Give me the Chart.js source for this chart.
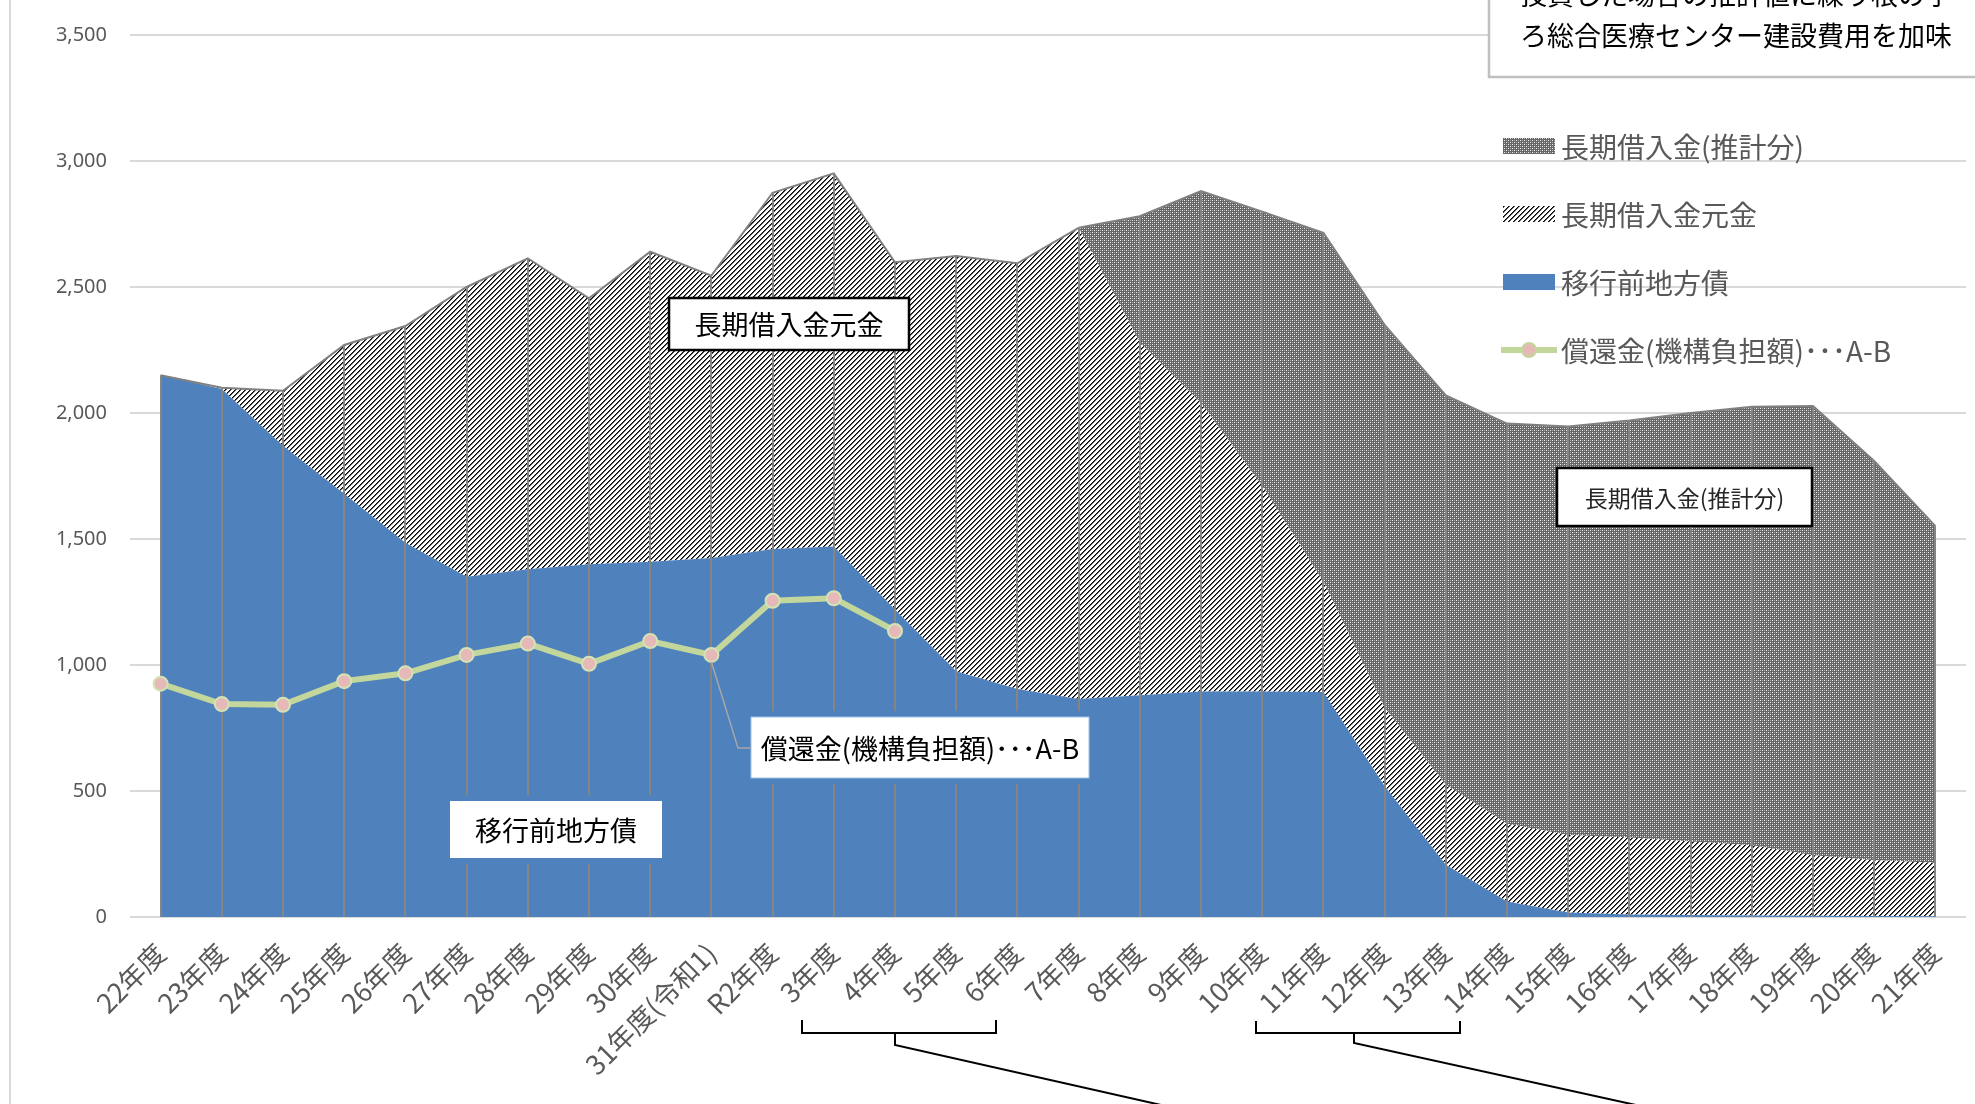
<!DOCTYPE html>
<html lang="ja">
<head>
<meta charset="utf-8">
<title>長期借入金・移行前地方債の推移</title>
<script src="https://cdn.jsdelivr.net/npm/chart.js@4.4.1/dist/chart.umd.min.js"></script>
<style>
    html, body { margin: 0; padding: 0; background: #fff; }
    #wrap { position: relative; width: 1975px; height: 1104px; overflow: hidden; }
    canvas { display: block; }
</style>
</head>
<body>
<div id="wrap"><canvas id="debt-chart" width="1975" height="1104"></canvas></div>
<script>
"use strict";

// categories (fiscal years)
var years = ['22年度', '23年度', '24年度', '25年度', '26年度', '27年度', '28年度', '29年度', '30年度',
    '31年度(令和1)', 'R2年度', '3年度', '4年度', '5年度', '6年度', '7年度', '8年度', '9年度', '10年度',
    '11年度', '12年度', '13年度', '14年度', '15年度', '16年度', '17年度', '18年度', '19年度', '20年度', '21年度'];

// 移行前地方債 (bottom, blue)
var chihosai = [2150, 2095, 1870, 1680, 1485, 1350, 1380, 1400, 1410, 1425, 1460, 1470, 1220, 975, 905,
    865, 880, 895, 895, 893, 520, 207, 62, 18, 10, 8, 6, 5, 4, 3];

// 長期借入金元金 (middle, hatched)
var ganbunkin = [0, 5, 218, 590, 860, 1150, 1234, 1055, 1230, 1120, 1414, 1481, 1378, 1648, 1689,
    1870, 1400, 1145, 815, 437, 310, 318, 308, 307, 305, 292, 279, 240, 221, 212];

// 長期借入金(推計分) (top, dense pattern)
var suikei = [0, 0, 0, 0, 0, 0, 0, 0, 0, 0, 0, 0, 0, 0, 0,
    0, 501, 841, 1089, 1385, 1520, 1545, 1588, 1621, 1655, 1700, 1740, 1783, 1585, 1336];

// 償還金(機構負担額)・・・A-B (line)
var shokan = [926, 845, 842, 936, 967, 1040, 1085, 1005, 1095, 1040, 1255, 1265, 1135,
    null, null, null, null, null, null, null, null, null, null, null, null, null, null, null, null, null];

var seriesNames = ['移行前地方債', '長期借入金元金', '長期借入金(推計分)', '償還金(機構負担額)･･･A-B'];

var JP = '"Noto Sans CJK JP", "Noto Sans", sans-serif';
var BLUE = '#4f81bd';

function makeHatch() {
    var c = document.createElement('canvas');
    c.width = 5; c.height = 5;
    var g = c.getContext('2d');
    g.fillStyle = '#ffffff';
    g.fillRect(0, 0, 5, 5);
    for (var i = 0; i < 5; i++) {
        g.fillStyle = '#000000';
        g.fillRect(i, 4 - i, 1, 1);
        g.fillStyle = '#5a5a5a';
        g.fillRect(i, (5 - i) % 5, 1, 1);
    }
    return g.createPattern(c, 'repeat');
}

function makeDense() {
    var c = document.createElement('canvas');
    c.width = 4; c.height = 4;
    var g = c.getContext('2d');
    g.fillStyle = '#666666';
    g.fillRect(0, 0, 4, 4);
    g.fillStyle = '#eeeeee';
    g.fillRect(0, 0, 1, 1);
    g.fillRect(2, 2, 1, 1);
    g.fillStyle = '#b0b0b0';
    g.fillRect(2, 0, 1, 1);
    g.fillRect(0, 2, 1, 1);
    return g.createPattern(c, 'repeat');
}

var hatch = makeHatch();
var dense = makeDense();

function labelBox(ctx, text, x, y, w, h, opt) {
    if (opt.halo) {
        ctx.fillStyle = opt.halo;
        ctx.fillRect(x - 6, y - 6, w + 12, h + 12);
    }
    ctx.fillStyle = '#ffffff';
    ctx.fillRect(x, y, w, h);
    if (opt.border) {
        ctx.strokeStyle = opt.border;
        ctx.lineWidth = opt.borderWidth || 2;
        ctx.strokeRect(x, y, w, h);
    }
    ctx.fillStyle = opt.color || '#000';
    ctx.font = opt.font;
    ctx.textAlign = 'center';
    ctx.textBaseline = 'middle';
    ctx.fillText(text, x + w / 2, y + h / 2 + 1);
}

// drop lines from the stacked total down to zero, drawn over the areas
var dropLines = {
    id: 'dropLines',
    afterDatasetDraw: function(chart, args) {
        if (args.index !== 0) return;
        var ctx = chart.ctx, xs = chart.scales.x, ys = chart.scales.y;
        ctx.save();
        ctx.strokeStyle = '#858585';
        ctx.lineWidth = 2;
        for (var i = 0; i < years.length; i++) {
            var total = chihosai[i] + ganbunkin[i] + suikei[i];
            var px = Math.round(xs.getPixelForValue(i));
            ctx.beginPath();
            ctx.moveTo(px, ys.getPixelForValue(total));
            ctx.lineTo(px, ys.getPixelForValue(0));
            ctx.stroke();
        }
        ctx.restore();
    }
};

var annotations = {
    id: 'annotations',
    afterDraw: function(chart) {
        var ctx = chart.ctx, xs = chart.scales.x, ys = chart.scales.y;
        ctx.save();

        // left frame line
        ctx.strokeStyle = '#d9d9d9';
        ctx.lineWidth = 2;
        ctx.beginPath();
        ctx.moveTo(10, 0);
        ctx.lineTo(10, 1104);
        ctx.stroke();

        // note box at the top right (cut by the picture edge)
        ctx.fillStyle = '#ffffff';
        ctx.fillRect(1489, -10, 520, 87);
        ctx.strokeStyle = '#bfbfbf';
        ctx.lineWidth = 2.5;
        ctx.strokeRect(1489, -10, 520, 87);
        ctx.fillStyle = '#000';
        ctx.font = '27px ' + JP;
        ctx.textAlign = 'left';
        ctx.textBaseline = 'middle';
        ctx.fillText('投資した場合の推計値に繰り根の予', 1520, -5);
        ctx.fillText('ろ総合医療センター建設費用を加味', 1520, 36);

        // legend
        var lx = 1503, lw = 52, tx = 1561;
        var rows = [146, 214, 282, 350];
        ctx.fillStyle = dense;
        ctx.fillRect(lx, rows[0] - 8, lw, 16);
        ctx.fillStyle = hatch;
        ctx.fillRect(lx, rows[1] - 8, lw, 16);
        ctx.fillStyle = BLUE;
        ctx.fillRect(lx, rows[2] - 8, lw, 16);
        ctx.strokeStyle = '#c3d69b';
        ctx.lineWidth = 6;
        ctx.beginPath();
        ctx.moveTo(lx - 2, rows[3]);
        ctx.lineTo(lx + lw + 2, rows[3]);
        ctx.stroke();
        ctx.beginPath();
        ctx.arc(lx + lw / 2, rows[3], 7, 0, Math.PI * 2);
        ctx.fillStyle = '#e6b9b8';
        ctx.fill();
        ctx.lineWidth = 2;
        ctx.stroke();
        ctx.fillStyle = '#595959';
        ctx.font = '28px ' + JP;
        ctx.textAlign = 'left';
        ctx.textBaseline = 'middle';
        ctx.fillText(seriesNames[2], tx, rows[0] + 1);
        ctx.fillText(seriesNames[1], tx, rows[1] + 1);
        ctx.fillText(seriesNames[0], tx, rows[2] + 1);
        ctx.fillText(seriesNames[3], tx, rows[3] + 1);

        // series labels inside the plot
        labelBox(ctx, seriesNames[1], 669, 298, 240, 52,
            { border: '#000', borderWidth: 2.5, font: '27px ' + JP });
        labelBox(ctx, seriesNames[0], 450, 801, 212, 57,
            { halo: BLUE, font: '27px ' + JP });
        labelBox(ctx, seriesNames[2], 1557, 468, 255, 58,
            { border: '#000', borderWidth: 2.5, font: '23px ' + JP, color: '#262626' });
        labelBox(ctx, seriesNames[3], 751, 717, 338, 61,
            { halo: BLUE, border: '#9dc3e6', borderWidth: 1, font: '27px ' + JP });

        // leader line from the 31年度 point to its label
        ctx.strokeStyle = '#a6a6a6';
        ctx.lineWidth = 1.5;
        ctx.beginPath();
        ctx.moveTo(xs.getPixelForValue(9), ys.getPixelForValue(shokan[9]) + 7);
        ctx.lineTo(738, 748);
        ctx.lineTo(751, 748);
        ctx.stroke();

        // brackets under the axis
        ctx.strokeStyle = '#000';
        ctx.lineWidth = 2;
        ctx.beginPath();
        ctx.moveTo(802, 1020); ctx.lineTo(802, 1033); ctx.lineTo(996, 1033); ctx.lineTo(996, 1020);
        ctx.moveTo(895, 1033); ctx.lineTo(895, 1045); ctx.lineTo(1170, 1107);
        ctx.moveTo(1256, 1021); ctx.lineTo(1256, 1033); ctx.lineTo(1460, 1033); ctx.lineTo(1460, 1021);
        ctx.moveTo(1354, 1033); ctx.lineTo(1354, 1043); ctx.lineTo(1645, 1107);
        ctx.stroke();

        ctx.restore();
    }
};

function draw() {
    new Chart(document.getElementById('debt-chart'), {
        type: 'line',
        data: {
            labels: years,
            datasets: [{
                label: seriesNames[0],
                data: chihosai,
                stack: 'debt',
                backgroundColor: BLUE,
                borderWidth: 0,
                fill: 'origin',
                pointRadius: 0,
                order: 1
            }, {
                label: seriesNames[1],
                data: ganbunkin,
                stack: 'debt',
                backgroundColor: hatch,
                borderColor: '#808080',
                borderWidth: 2,
                fill: '-1',
                pointRadius: 0,
                order: 1,
                segment: {
                    borderColor: function(c) {
                        return suikei[c.p1DataIndex] > 0 ? 'rgba(0,0,0,0)' : '#808080';
                    }
                }
            }, {
                label: seriesNames[2],
                data: suikei,
                stack: 'debt',
                backgroundColor: dense,
                borderColor: '#808080',
                borderWidth: 2,
                fill: '-1',
                pointRadius: 0,
                order: 1,
                segment: {
                    borderColor: function(c) {
                        return suikei[c.p1DataIndex] > 0 ? '#808080' : 'rgba(0,0,0,0)';
                    }
                }
            }, {
                label: seriesNames[3],
                data: shokan,
                stack: 'repay',
                borderColor: '#c3d69b',
                borderWidth: 6,
                fill: false,
                pointRadius: 7,
                pointBorderWidth: 2,
                pointBackgroundColor: '#e6b9b8',
                pointBorderColor: '#d4e3b5',
                order: 0
            }]
        },
        options: {
            responsive: false,
            devicePixelRatio: 1,
            animation: false,
            elements: { line: { tension: 0 } },
            layout: { padding: { top: 35, right: 9, bottom: 0, left: 0 } },
            plugins: {
                legend: { display: false },
                tooltip: { enabled: false },
                filler: { drawTime: 'beforeDatasetsDraw' }
            },
            scales: {
                x: {
                    offset: true,
                    grid: { display: false },
                    border: { display: false },
                    ticks: {
                        autoSkip: false,
                        minRotation: 45,
                        maxRotation: 45,
                        padding: 12,
                        color: '#595959',
                        font: { family: JP, size: 27 }
                    },
                    afterFit: function(scale) { scale.height = 187; }
                },
                y: {
                    stacked: true,
                    min: 0,
                    max: 3500,
                    border: { display: false },
                    grid: { color: '#d9d9d9', lineWidth: 2, drawTicks: false },
                    ticks: {
                        stepSize: 500,
                        padding: 23,
                        color: '#595959',
                        font: { family: '"Noto Sans", sans-serif', size: 20 },
                        callback: function(v) { return v.toLocaleString('en-US'); }
                    },
                    afterFit: function(scale) { scale.width = 130; }
                }
            }
        },
        plugins: [dropLines, annotations]
    });
}

draw();
</script>
</body>
</html>
